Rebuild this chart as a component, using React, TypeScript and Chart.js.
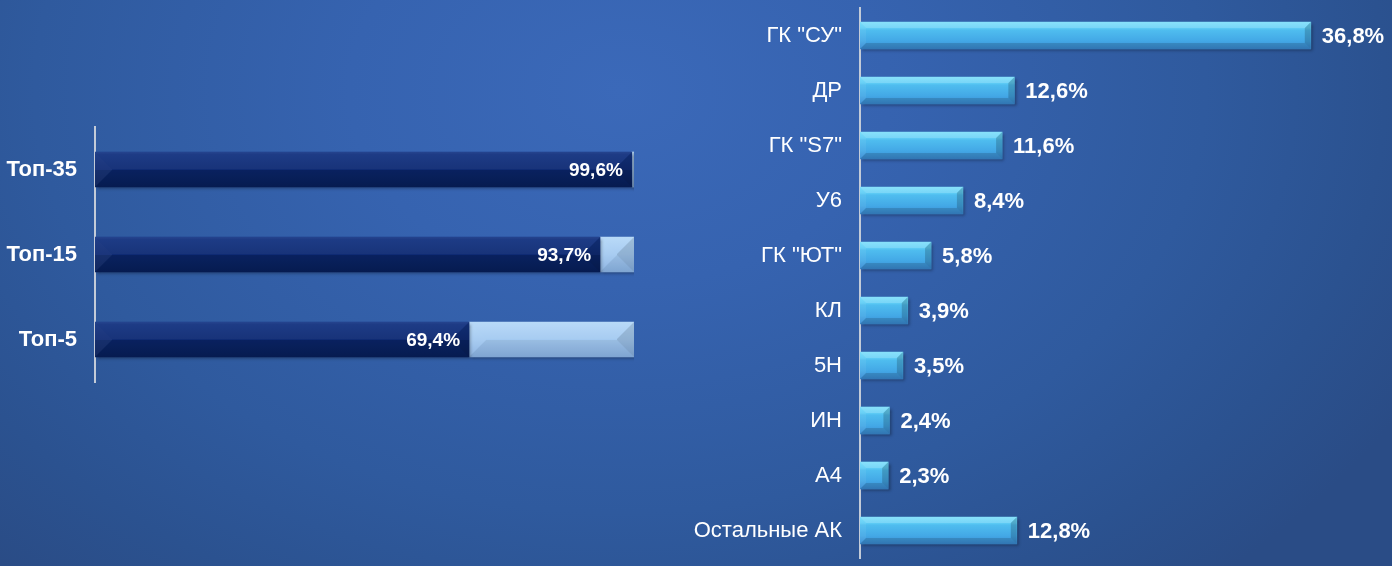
import React, { useEffect, useRef } from "react";
import { Chart, registerables } from "chart.js";

Chart.register(...registerables);

// ---- Data ----
const topCategories = ["Топ-35", "Топ-15", "Топ-5"];
const topShares = [99.6, 93.7, 69.4];
const topRest = [0.4, 6.3, 30.6];

const airlineCategories = [
  'ГК "СУ"',
  "ДР",
  'ГК "S7"',
  "У6",
  'ГК "ЮТ"',
  "КЛ",
  "5Н",
  "ИН",
  "А4",
  "Остальные АК",
];
const airlineShares = [36.8, 12.6, 11.6, 8.4, 5.8, 3.9, 3.5, 2.4, 2.3, 12.8];

const FONT = '"Liberation Sans", Arial, sans-serif';
const fmt = (v: number) => v.toFixed(1).replace(".", ",") + "%";

type Stops = [number, string][];

function gradientFill(stops: Stops, thickness: number, fallback: string) {
  return (ctx: any) => {
    const chart = ctx.chart;
    const y = chart.scales && chart.scales.y;
    if (!y || ctx.dataIndex === undefined) return fallback;
    const yc = y.getPixelForValue(ctx.dataIndex);
    if (!isFinite(yc)) return fallback;
    const g = chart.ctx.createLinearGradient(0, yc - thickness / 2, 0, yc + thickness / 2);
    stops.forEach(([o, c]) => g.addColorStop(o, c));
    return g;
  };
}

type BevelStyle = { bevel: number; top: string; bottom: string; right: string; left: string };

function makeBevelPlugin(st: BevelStyle, labelMode: "inside" | "outside", labelFont: string, labelOffset: number) {
  return {
    id: "bevelLabels",
    beforeDatasetsDraw(chart: any) {
      const c = chart.ctx;
      c.save();
      c.shadowColor = "rgba(0,0,0,0.35)";
      c.shadowOffsetX = 2;
      c.shadowOffsetY = 2;
      c.shadowBlur = 3;
    },
    afterDatasetsDraw(chart: any) {
      const c = chart.ctx;
      c.restore();
      chart.data.datasets.forEach((ds: any, di: number) => {
        const meta = chart.getDatasetMeta(di);
        meta.data.forEach((el: any, i: number) => {
          const p = el.getProps(["x", "y", "base", "height"], true);
          const L = Math.min(p.x, p.base);
          const R = Math.max(p.x, p.base);
          const T = p.y - p.height / 2;
          const B = p.y + p.height / 2;
          const w = R - L;
          if (!(w > 0.5)) return;
          const b = Math.min(st.bevel, w / 2, p.height / 2);
          c.save();
          c.fillStyle = st.top;
          c.beginPath();
          c.moveTo(L, T); c.lineTo(R, T); c.lineTo(R - b, T + b); c.lineTo(L + b, T + b); c.closePath(); c.fill();
          c.fillStyle = st.bottom;
          c.beginPath();
          c.moveTo(L, B); c.lineTo(R, B); c.lineTo(R - b, B - b); c.lineTo(L + b, B - b); c.closePath(); c.fill();
          c.fillStyle = st.right;
          c.beginPath();
          c.moveTo(R, T); c.lineTo(R, B); c.lineTo(R - b, B - b); c.lineTo(R - b, T + b); c.closePath(); c.fill();
          c.fillStyle = st.left;
          c.beginPath();
          c.moveTo(L, T); c.lineTo(L, B); c.lineTo(L + b, B - b); c.lineTo(L + b, T + b); c.closePath(); c.fill();
          c.restore();

          if (di === 0) {
            const v = ds.data[i];
            c.save();
            c.fillStyle = "#ffffff";
            c.font = labelFont;
            c.textBaseline = "middle";
            if (labelMode === "inside") {
              c.textAlign = "right";
              c.fillText(fmt(v), R - labelOffset, p.y + 1);
            } else {
              c.textAlign = "left";
              c.fillText(fmt(v), R + labelOffset, p.y + 1);
            }
            c.restore();
          }
        });
      });
    },
  };
}

const fixAxis = (width: number) => (s: any) => {
  s.width = width;
  s.paddingTop = 0;
  s.paddingBottom = 0;
};

function TopChart() {
  const ref = useRef<HTMLCanvasElement>(null);
  useEffect(() => {
    if (!ref.current) return;
    const thick = 35;
    const chart = new Chart(ref.current, {
      type: "bar",
      data: {
        labels: topCategories,
        datasets: [
          {
            data: topShares,
            backgroundColor: gradientFill(
              [[0, "#1d3d8a"], [0.08, "#143380"], [0.5, "#0f2b74"], [0.52, "#0a2465"], [1, "#071d56"]],
              thick,
              "#0a2364"
            ),
            borderWidth: 0,
            barThickness: thick,
          },
          {
            data: topRest,
            backgroundColor: gradientFill(
              [[0, "#b6d9f8"], [0.5, "#a4caf1"], [1, "#88b0e0"]],
              thick,
              "#9cc4ee"
            ),
            borderWidth: 0,
            barThickness: thick,
          },
        ],
      },
      options: {
        indexAxis: "y",
        animation: false,
        responsive: false,
        maintainAspectRatio: false,
        layout: { padding: { top: 127, bottom: 184, right: 26, left: 0 } },
        plugins: { legend: { display: false }, tooltip: { enabled: false } },
        scales: {
          x: { stacked: true, min: 0, max: 100, display: false },
          y: {
            stacked: true,
            afterFit: fixAxis(95),
            grid: { display: false, drawTicks: false },
            border: { display: true, color: "#c3cbd8", width: 2 },
            ticks: {
              color: "#ffffff",
              padding: 18,
              font: { family: FONT, size: 22, weight: "bold" },
            },
          },
        },
      },
      plugins: [
        makeBevelPlugin(
          { bevel: 17, top: "rgba(255,255,255,0.04)", bottom: "rgba(0,0,0,0.06)", right: "rgba(0,0,0,0.12)", left: "rgba(255,255,255,0.05)" },
          "inside",
          `bold 19px ${FONT}`,
          9
        ),
      ],
    } as any);
    return () => chart.destroy();
  }, []);
  return (
    <canvas
      ref={ref}
      width={660}
      height={566}
      style={{ position: "absolute", left: 0, top: 0, width: 660, height: 566 }}
    />
  );
}

function AirlineChart() {
  const ref = useRef<HTMLCanvasElement>(null);
  useEffect(() => {
    if (!ref.current) return;
    const thick = 27;
    const chart = new Chart(ref.current, {
      type: "bar",
      data: {
        labels: airlineCategories,
        datasets: [
          {
            data: airlineShares,
            backgroundColor: gradientFill(
              [[0, "#72dcfa"], [0.22, "#60cef6"], [0.3, "#4fbdef"], [0.7, "#43a8e6"], [1, "#3a8ad2"]],
              thick,
              "#4ab4ec"
            ),
            borderWidth: 0,
            barThickness: thick,
          },
        ],
      },
      options: {
        indexAxis: "y",
        animation: false,
        responsive: false,
        maintainAspectRatio: false,
        layout: { padding: { top: 8, bottom: 8, right: 42, left: 0 } },
        plugins: { legend: { display: false }, tooltip: { enabled: false } },
        scales: {
          x: { min: 0, max: 40, display: false },
          y: {
            afterFit: fixAxis(200),
            grid: { display: false, drawTicks: false },
            border: { display: true, color: "#c3cbd8", width: 2 },
            ticks: {
              color: "#ffffff",
              padding: 18,
              font: { family: FONT, size: 22 },
            },
          },
        },
      },
      plugins: [
        makeBevelPlugin(
          { bevel: 6, top: "rgba(255,255,255,0.16)", bottom: "rgba(0,0,0,0.14)", right: "rgba(0,0,0,0.18)", left: "rgba(255,255,255,0.06)" },
          "outside",
          `bold 22px ${FONT}`,
          11
        ),
      ],
    } as any);
    return () => chart.destroy();
  }, []);
  return (
    <canvas
      ref={ref}
      width={732}
      height={566}
      style={{ position: "absolute", left: 660, top: 0, width: 732, height: 566 }}
    />
  );
}

export default function App() {
  return (
    <div
      style={{
        position: "absolute",
        left: 0,
        top: 0,
        width: 1392,
        height: 566,
        overflow: "hidden",
        background:
          "radial-gradient(ellipse 900px 650px at 620px 90px, #3b69b9 0%, #3663b0 30%, #2f5a9e 65%, #2b5290 85%, #2a4c86 100%)",
      }}
    >
      <TopChart />
      <AirlineChart />
    </div>
  );
}
